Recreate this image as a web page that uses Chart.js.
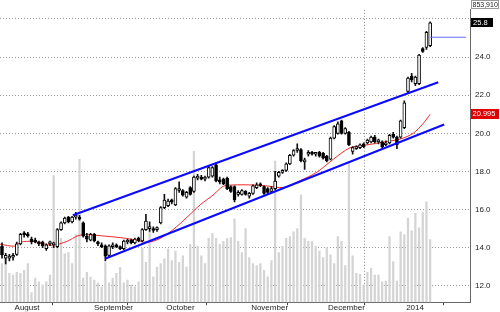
<!DOCTYPE html>
<html>
<head>
<meta charset="utf-8">
<script src="https://cdn.jsdelivr.net/npm/chart.js@4.4.0/dist/chart.umd.min.js"></script>
<style>
  html, body { margin: 0; padding: 0; background: #fff; }
  canvas { display: block; }
</style>
</head>
<body>
<canvas id="price-chart" width="500" height="312"></canvas>
<script>
// Daily OHLC (one entry per trading day)
const opens = [
    14.08, 13.45, 13.45, 13.5, 13.65, 14.2, 14.7, 14.7, 14.45, 14.4,
    14.25, 14.3, 13.95, 14.2, 14.15, 14.05, 14.95, 15.3, 15.6, 15.35,
    15.6, 15.6, 15.3, 14.6, 14.4, 14.7, 14.25, 14.15, 14.1, 13.6,
    14.05, 14.1, 14.05, 13.95, 14.3, 14.4, 14.25, 14.5, 14.35, 14.95,
    15.0, 14.95, 14.95, 15.3, 16.1, 16.2, 16.45, 16.25, 17.0, 17.0,
    16.65, 17.15, 16.95, 17.65, 17.7, 17.6, 17.7, 17.75, 18.35, 17.55,
    17.6, 17.65, 17.2, 17.2, 16.8, 16.8, 16.95, 16.7, 16.85, 17.15,
    17.3, 17.2, 17.1, 16.95, 17.1, 17.75, 17.95, 18.05, 18.4, 18.85,
    19.1, 19.15, 18.5, 18.9, 18.95, 18.9, 19.0, 18.95, 18.8, 18.65,
    19.75, 20.0, 20.65, 20.0, 20.05, 19.05, 19.2, 19.25, 19.45, 19.5,
    19.55, 19.8, 19.55, 19.55, 19.4, 19.5, 19.95, 19.8, 19.8, 20.3,
    22.2, 23.0, 22.6, 22.6, 24.45, 24.5, 24.6
];
const highs = [
    14.25, 13.7, 13.65, 13.7, 14.3, 14.75, 14.85, 14.8, 14.55, 14.5,
    14.35, 14.35, 14.2, 14.35, 14.3, 15.0, 15.35, 15.6, 15.65, 15.65,
    15.85, 15.7, 15.35, 14.75, 14.75, 14.75, 14.35, 14.25, 14.15, 14.15,
    14.25, 14.2, 14.1, 14.4, 14.45, 14.45, 14.5, 14.55, 15.0, 15.75,
    15.35, 15.1, 15.1, 16.15, 16.8, 16.55, 16.55, 17.15, 17.45, 17.05,
    16.95, 17.2, 17.75, 17.85, 17.8, 17.75, 18.3, 18.25, 18.45, 17.7,
    17.65, 17.7, 17.25, 17.25, 17.0, 17.05, 17.0, 16.9, 17.3, 17.4,
    17.4, 17.25, 17.15, 17.2, 18.0, 18.0, 18.1, 18.45, 18.9, 19.15,
    19.45, 19.2, 18.7, 19.1, 19.05, 19.0, 19.05, 19.0, 18.85, 19.8,
    20.4, 20.6, 20.7, 20.3, 20.1, 19.3, 19.35, 19.45, 19.5, 19.7,
    19.85, 19.9, 19.7, 19.6, 19.6, 19.95, 20.05, 19.85, 20.7, 21.7,
    22.95, 23.15, 23.0, 24.15, 24.5, 25.35, 25.85
];
const lows = [
    13.45, 13.15, 13.3, 13.35, 13.6, 14.15, 14.55, 14.55, 14.2, 14.25,
    14.1, 14.0, 13.85, 14.1, 14.0, 14.0, 14.9, 15.25, 15.3, 15.3,
    15.5, 15.45, 14.55, 14.3, 14.35, 14.3, 14.1, 14.0, 13.3, 13.5,
    13.95, 14.0, 13.9, 13.9, 14.2, 14.2, 14.2, 14.3, 14.3, 14.9,
    14.85, 14.8, 14.85, 15.25, 16.05, 16.15, 16.3, 16.2, 16.9, 16.7,
    16.6, 16.75, 16.9, 17.55, 17.55, 17.5, 17.65, 17.7, 17.45, 17.35,
    17.3, 17.05, 16.9, 16.4, 16.7, 16.75, 16.75, 16.6, 16.8, 17.1,
    17.2, 16.8, 16.8, 16.9, 17.05, 17.7, 17.9, 18.0, 18.35, 18.8,
    19.0, 18.5, 18.1, 18.8, 18.85, 18.8, 18.75, 18.65, 18.5, 18.6,
    19.7, 19.95, 19.95, 19.95, 19.35, 18.9, 19.15, 19.2, 19.25, 19.45,
    19.5, 19.5, 19.45, 19.25, 19.35, 19.45, 19.75, 19.2, 19.75, 20.25,
    22.1, 22.7, 22.5, 22.55, 24.25, 24.4, 24.55
];
const closes = [
    13.62, 13.6, 13.55, 13.6, 14.2, 14.7, 14.68, 14.62, 14.3, 14.3,
    14.2, 14.1, 14.15, 14.25, 14.2, 14.95, 15.3, 15.55, 15.35, 15.6,
    15.62, 15.5, 14.6, 14.45, 14.7, 14.35, 14.2, 14.05, 13.55, 14.1,
    14.15, 14.05, 13.95, 14.35, 14.4, 14.25, 14.45, 14.35, 14.95, 15.4,
    15.1, 14.9, 15.0, 16.1, 16.5, 16.45, 16.4, 17.1, 17.05, 16.75,
    16.9, 16.8, 17.7, 17.7, 17.6, 17.65, 18.2, 18.2, 17.5, 17.45,
    17.35, 17.1, 16.95, 16.5, 16.9, 17.0, 16.8, 16.85, 17.25, 17.3,
    17.25, 16.85, 16.9, 17.1, 17.5, 17.95, 18.05, 18.4, 18.85, 19.1,
    19.15, 18.55, 18.6, 19.0, 18.9, 18.95, 18.8, 18.7, 18.55, 19.75,
    20.35, 20.5, 20.0, 20.25, 19.4, 19.25, 19.3, 19.4, 19.3, 19.65,
    19.8, 19.55, 19.65, 19.3, 19.5, 19.9, 19.8, 19.4, 20.65, 21.6,
    22.9, 22.8, 22.95, 24.1, 24.3, 25.3, 25.8
];
// Volume in thousands of shares
const volumes = [
    525, 604, 394, 368, 407, 394, 434, 525, 131, 328,
    276, 236, 276, 368, 1725, 959, 871, 657, 674, 525,
    920, 1944, 328, 407, 342, 302, 263, 210, 539, 263,
    328, 394, 473, 263, 302, 236, 210, 276, 740, 543,
    959, 346, 477, 525, 591, 722, 565, 696, 543, 631,
    477, 788, 2053, 762, 631, 525, 871, 937, 871, 788,
    828, 871, 880, 1134, 828, 674, 1003, 609, 525, 499,
    525, 434, 346, 565, 1922, 674, 762, 871, 893, 959,
    1003, 1462, 871, 828, 828, 762, 696, 609, 740, 644,
    525, 893, 828, 499, 1918, 631, 394, 381, 236, 407,
    460, 368, 368, 276, 289, 893, 552, 289, 959, 920,
    1143, 972, 1209, 1012, 1222, 1366, 854
];

// Moving average (red): day index / price
const maX = [-0.5, 3.5, 4.9, 8.4, 13.6, 17.6, 20.6, 23.0, 26.6, 32.0, 35.5, 39.3, 42.8, 46.3, 50.1,
             53.7, 57.2, 59.9, 62.6, 68.0, 71.8, 76.2, 80.8, 85.4, 89.7, 94.3, 98.9, 103.3, 107.9,
             111.4, 114.1, 116.0];
const maY = [14.18, 14.08, 14.28, 14.33, 14.13, 14.33, 14.63, 14.68, 14.63, 14.53, 14.43, 14.28, 14.48, 14.94, 15.59,
             16.25, 16.76, 17.22, 17.29, 17.29, 17.24, 17.16, 17.52, 17.97, 18.63, 19.24, 19.39, 19.54, 19.70,
             20.0, 20.51, 21.0];

// Trend channel (blue) end points
const upperChannelX = [19.2, 118.2];
const upperChannelY = [15.70, 22.68];
const lowerChannelX = [27.9, 119.8];
const lowerChannelY = [13.42, 20.46];
const markerX = [116.0, 125.7];
const markerY = [25.04, 25.04];

// Axis ticks
const monthTicks = [2.8, 24.3, 43.9, 66.9, 87.7, 108.9];
const monthNames = ['August', 'September', 'October', 'November', 'December', '2014'];
const priceTicks = [12, 14, 16, 18, 20, 22, 24, 26];

const lastVolumeText = '853,910';
const lastClose = 25.8;
const lastMa = 20.995;

function toPoints(xs, ys) {
    return xs.map((x, i) => ({ x: x, y: ys[i] }));
}

// Price tags drawn on the right axis
const priceTags = {
    id: 'priceTags',
    afterDraw(chart) {
        const ctx = chart.ctx;
        const yScale = chart.scales.y;
        const left = chart.chartArea.right + 1;
        ctx.save();
        ctx.font = '7px "Liberation Sans", Arial, sans-serif';
        ctx.textBaseline = 'middle';
        ctx.textAlign = 'left';

        // last volume
        ctx.fillStyle = '#fff';
        ctx.fillRect(left, 0, 28, 9);
        ctx.strokeStyle = '#999';
        ctx.lineWidth = 1;
        ctx.strokeRect(left + 0.5, 0.5, 27, 8);
        ctx.fillStyle = '#222';
        ctx.fillText(lastVolumeText, left + 1.5, 5);

        ctx.font = '7.5px "Liberation Sans", Arial, sans-serif';
        // last close
        let py = yScale.getPixelForValue(lastClose);
        ctx.fillStyle = '#000';
        ctx.fillRect(left, Math.round(py - 4.5), 22, 9);
        ctx.fillStyle = '#fff';
        ctx.fillText(lastClose.toFixed(1), left + 2, py);

        // moving average
        py = yScale.getPixelForValue(lastMa);
        ctx.fillStyle = '#e00000';
        ctx.fillRect(left, Math.round(py - 5), 28, 10);
        ctx.fillStyle = '#fff';
        ctx.fillText(String(lastMa), left + 1.5, py);
        ctx.restore();
    }
};

Chart.defaults.font.family = '"Liberation Sans", Arial, sans-serif';
Chart.defaults.font.size = 8;
Chart.defaults.color = '#222';

const ctx = document.getElementById('price-chart').getContext('2d');
const priceChart = new Chart(ctx, {
    type: 'bar',
    data: {
        datasets: [
            {
                type: 'line',
                data: toPoints(upperChannelX, upperChannelY),
                borderColor: '#0a0aff',
                borderWidth: 2,
                pointRadius: 0,
                order: 0
            },
            {
                type: 'line',
                data: toPoints(lowerChannelX, lowerChannelY),
                borderColor: '#0a0aff',
                borderWidth: 2,
                pointRadius: 0,
                order: 0
            },
            {
                type: 'line',
                data: toPoints(markerX, markerY),
                borderColor: '#6470f5',
                borderWidth: 1,
                pointRadius: 0,
                order: 0
            },
            {
                // candle bodies
                data: opens.map((o, i) => ({ x: i, y: [o, closes[i]] })),
                backgroundColor: opens.map((o, i) => closes[i] >= o ? '#ffffff' : '#000000'),
                borderColor: '#000',
                borderWidth: 1,
                borderSkipped: false,
                barThickness: 3,
                minBarLength: 2,
                grouped: false,
                order: 1
            },
            {
                // wicks
                data: lows.map((l, i) => ({ x: i, y: [l, highs[i]] })),
                backgroundColor: '#111',
                borderWidth: 0,
                barThickness: 1,
                grouped: false,
                order: 2
            },
            {
                type: 'line',
                data: toPoints(maX, maY),
                borderColor: '#ee2a2a',
                borderWidth: 1,
                pointRadius: 0,
                tension: 0.3,
                order: 3
            },
            {
                // volume
                data: volumes.map((v, i) => ({ x: i, y: v })),
                yAxisID: 'vol',
                backgroundColor: '#d4d4d4',
                borderWidth: 0,
                barThickness: 1.6,
                grouped: false,
                order: 4
            }
        ]
    },
    options: {
        responsive: false,
        animation: false,
        layout: { padding: 0 },
        plugins: {
            legend: { display: false },
            tooltip: { enabled: false }
        },
        scales: {
            x: {
                type: 'linear',
                min: -0.54,
                max: 126.8,
                offset: false,
                afterBuildTicks: function(scale) {
                    scale.ticks = monthTicks.map(v => ({ value: v }));
                },
                afterFit: function(scale) {
                    scale.height = 9;
                },
                ticks: {
                    align: 'start',
                    padding: -2,
                    maxRotation: 0,
                    autoSkip: false,
                    color: '#222',
                    callback: function(value) {
                        const k = monthTicks.indexOf(value);
                        return k >= 0 ? ' ' + monthNames[k] : '';
                    }
                },
                grid: {
                    color: function(c) {
                        return c.index === 5 ? '#8a8a8a' : 'rgba(0,0,0,0)';
                    },
                    lineWidth: 1,
                    tickLength: 3,
                    tickColor: '#444'
                },
                border: { color: '#666', width: 1, dash: [1, 2] }
            },
            y: {
                position: 'right',
                min: 11.14,
                max: 26.48,
                afterBuildTicks: function(scale) {
                    scale.ticks = priceTicks.map(v => ({ value: v }));
                },
                afterFit: function(scale) {
                    scale.width = 30;
                },
                ticks: {
                    padding: 5,
                    color: '#222',
                    callback: function(value) {
                        return value === 26 ? '' : value.toFixed(1);
                    }
                },
                grid: {
                    color: '#9a9a9a',
                    lineWidth: 1,
                    drawTicks: false
                },
                border: { color: '#666', width: 1, dash: [1, 2] }
            },
            vol: {
                display: false,
                min: 0,
                max: 3980
            }
        }
    },
    plugins: [priceTags]
});
</script>
</body>
</html>
